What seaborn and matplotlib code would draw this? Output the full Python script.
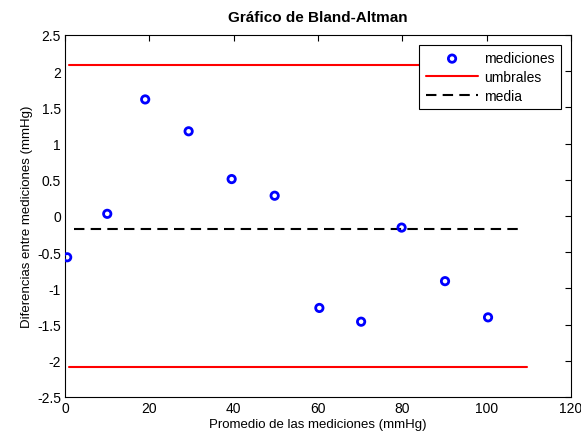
import matplotlib
matplotlib.use('Agg')
import matplotlib.pyplot as plt
import seaborn as sns

# Data
promedio = [0.5, 10.0, 19.0, 29.3, 39.5, 49.7, 60.3, 70.2, 79.8, 90.1, 100.3]
diferencia = [-0.57, 0.03, 1.61, 1.17, 0.51, 0.28, -1.27, -1.46, -0.16, -0.90, -1.40]
umbral_x = [1, 109.5]
umbral_sup = 2.09
umbral_inf = -2.085
media_x = [2, 108.5]
media = -0.18

x_ticks = [0, 20, 40, 60, 80, 100, 120]
y_ticks = [-2.5, -2, -1.5, -1, -0.5, 0, 0.5, 1, 1.5, 2, 2.5]


def main():
    sns.set_theme(style="white")
    plt.rcParams['font.family'] = ['Liberation Sans', 'DejaVu Sans']
    plt.rcParams['text.color'] = 'black'
    plt.rcParams['axes.labelcolor'] = 'black'

    fig = plt.figure(figsize=(5.81, 4.39), dpi=100)
    ax = fig.add_axes([0.112, 0.0934, 0.871, 0.8246])

    sns.scatterplot(x=promedio, y=diferencia, ax=ax, marker='o', s=28,
                    facecolor='none', edgecolor='#0000ff', linewidth=2,
                    label='mediciones', zorder=3)
    sns.lineplot(x=umbral_x, y=[umbral_sup, umbral_sup], ax=ax, color='#ff0000',
                 linewidth=1.5, label='umbrales')
    sns.lineplot(x=umbral_x, y=[umbral_inf, umbral_inf], ax=ax, color='#ff0000',
                 linewidth=1.5)
    sns.lineplot(x=media_x, y=[media, media], ax=ax, color='black',
                 linewidth=1.5, linestyle=(0, (5, 3)), label='media')

    ax.set_xlim(0, 120)
    ax.set_ylim(-2.5, 2.5)
    ax.set_xticks(x_ticks)
    ax.set_xticklabels([str(t) for t in x_ticks])
    ax.set_yticks(y_ticks)
    ax.set_yticklabels([f"{t:g}" for t in y_ticks])
    ax.tick_params(direction='in', length=4, width=0.8, colors='black',
                   labelsize=10, top=True, right=True, pad=3)
    for sp in ax.spines.values():
        sp.set_color('black')
        sp.set_linewidth(0.8)
    ax.grid(False)

    ax.set_title('Gráfico de Bland-Altman', fontsize=11, fontweight='bold',
                 pad=10, color='black')
    ax.set_xlabel('Promedio de las mediciones (mmHg)', fontsize=9.5, labelpad=2)
    ax.set_ylabel('Diferencias entre mediciones (mmHg)', fontsize=9.5, labelpad=3)

    leg = ax.legend(loc='upper right', bbox_to_anchor=(0.985, 0.98), fontsize=10,
                    frameon=True, fancybox=False, framealpha=1, edgecolor='black',
                    handlelength=3.8, borderpad=0.45, labelspacing=0.35,
                    handletextpad=0.4, borderaxespad=0.2)
    leg.get_frame().set_linewidth(0.8)

    fig.savefig('out.png', dpi=100)


if __name__ == "__main__":
    main()
